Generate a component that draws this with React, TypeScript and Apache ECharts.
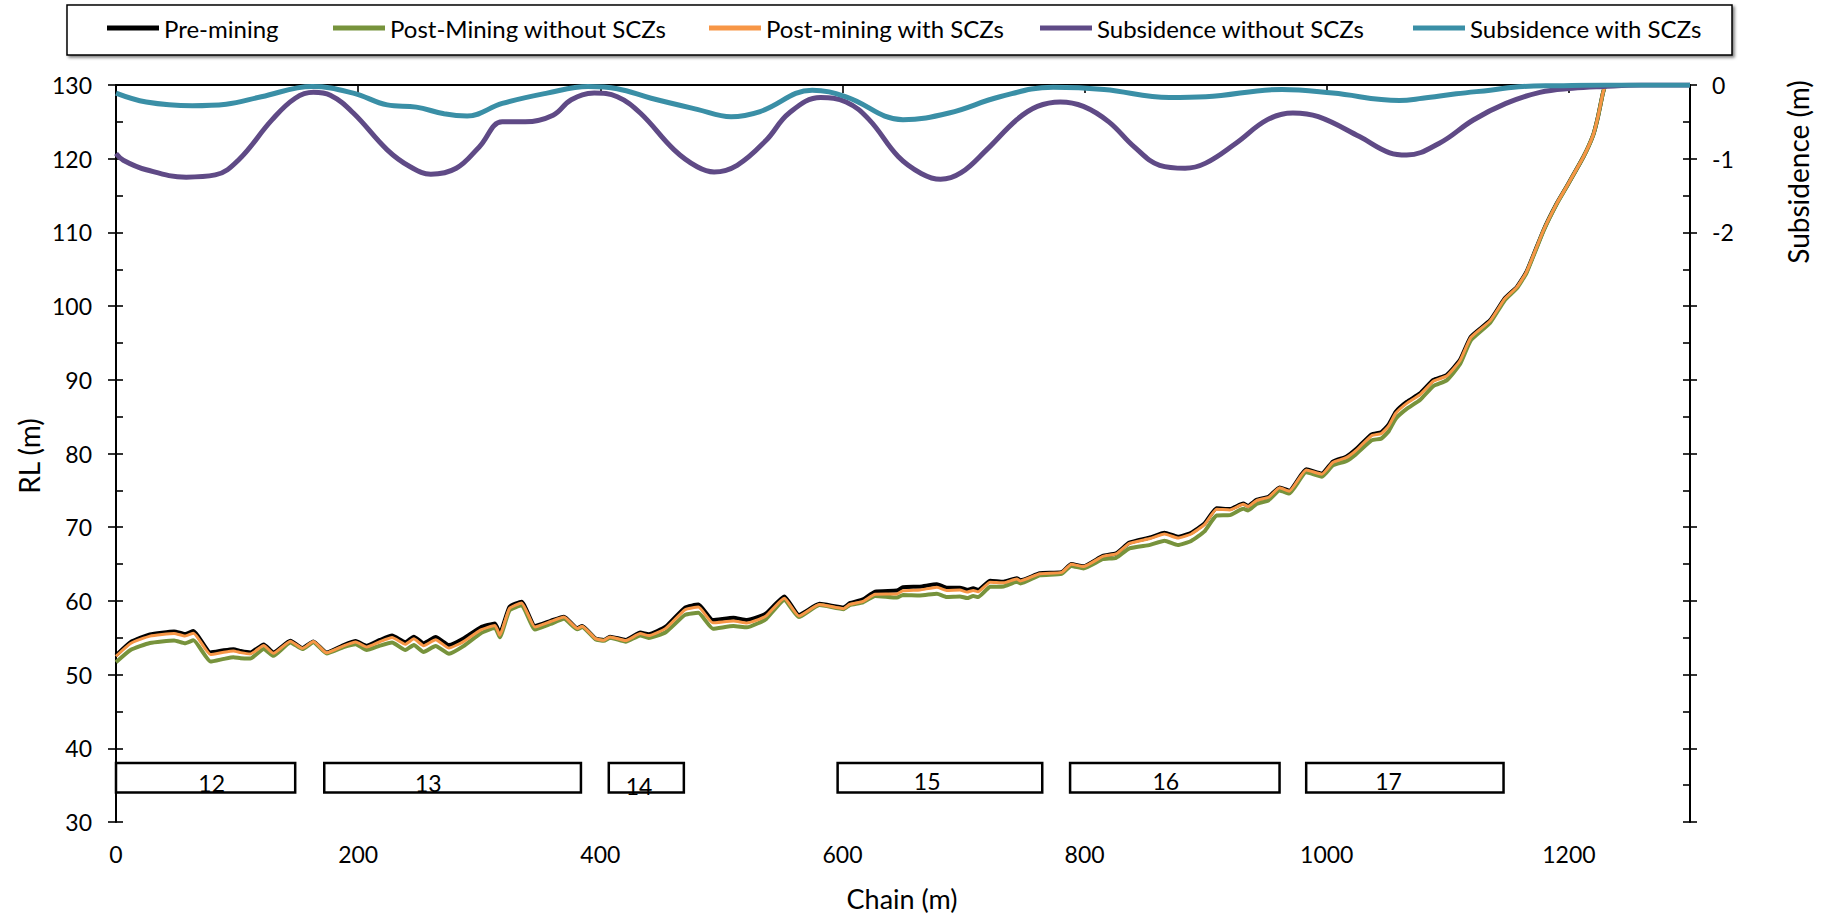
import React, { useEffect, useRef } from 'react';
import * as echarts from 'echarts';

const FONT = 'Lato';

// Ground profile (chain in m, RL in m)
const chain = [
  0, 12, 28, 48, 57, 64, 78, 89, 97, 103,
  111, 122, 130, 144, 154, 163, 174, 188, 198, 207,
  218, 228, 239, 246, 254, 264, 275, 287, 301, 313,
  317, 325, 335, 346, 359, 370, 381, 385, 396, 403,
  408, 421, 433, 440, 454, 470, 481, 493, 510, 521,
  531, 537, 552, 564, 581, 601, 606, 617, 627, 645,
  650, 664, 678, 686, 697, 703, 708, 712, 722, 733,
  744, 747, 763, 781, 789, 799, 815, 826, 837, 854,
  866, 877, 888, 899, 909, 920, 931, 935, 942, 952,
  961, 969, 983, 996, 1005, 1016, 1024, 1037, 1045, 1051,
  1057, 1066, 1077, 1088, 1099, 1110, 1119, 1135, 1147, 1157,
  1165, 1179, 1190, 1198, 1212, 1220, 1224, 1228, 1230,
];

const preMining = [
  52.6, 54.4, 55.45, 55.85, 55.5, 55.9, 53.0, 53.3, 53.45, 53.2,
  53.0, 54.1, 53.0, 54.6, 53.6, 54.5, 53.0, 54.0, 54.55, 53.9,
  54.7, 55.3, 54.4, 55.15, 54.25, 55.1, 54.0, 54.9, 56.4, 56.95,
  55.6, 59.2, 59.9, 56.6, 57.3, 57.86, 56.3, 56.6, 54.9, 54.7,
  55.15, 54.7, 55.7, 55.47, 56.5, 59.1, 59.5, 57.4, 57.7, 57.4,
  57.86, 58.3, 60.6, 58.1, 59.6, 59.1, 59.7, 60.2, 61.25, 61.4,
  61.85, 61.93, 62.25, 61.8, 61.8, 61.5, 61.7, 61.5, 62.74, 62.6,
  63.07, 62.8, 63.74, 63.9, 65.0, 64.7, 66.1, 66.45, 67.9, 68.6,
  69.25, 68.7, 69.25, 70.5, 72.56, 72.47, 73.2, 72.9, 73.7, 74.14,
  75.4, 74.95, 77.85, 77.3, 78.9, 79.57, 80.56, 82.6, 82.9, 83.9,
  85.67, 87.0, 88.16, 89.97, 90.65, 92.7, 95.85, 98.1, 101.06, 102.6,
  104.67, 110.3, 113.95, 116.2, 120.27, 123.2, 125.7, 128.87, 130.0,
];

const postMiningWithout = [
  51.67, 53.33, 54.29, 54.63, 54.25, 54.65, 51.77, 52.13, 52.37, 52.22,
  52.19, 53.49, 52.55, 54.37, 53.46, 54.4, 52.87, 53.74, 54.13, 53.33,
  53.93, 54.35, 53.33, 54.02, 53.07, 53.89, 52.84, 53.87, 55.58, 56.34,
  55.06, 58.7, 59.4, 56.13, 56.88, 57.57, 56.14, 56.46, 54.79, 54.58,
  55.01, 54.47, 55.32, 54.97, 55.75, 58.1, 58.38, 56.22, 56.59, 56.41,
  57.02, 57.55, 60.13, 57.8, 59.43, 58.88, 59.44, 59.8, 60.68, 60.45,
  60.81, 60.74, 60.98, 60.54, 60.6, 60.38, 60.66, 60.52, 61.91, 61.95,
  62.6, 62.36, 63.46, 63.67, 64.75, 64.41, 65.66, 65.85, 67.13, 67.6,
  68.15, 67.57, 68.13, 69.43, 71.59, 71.64, 72.51, 72.27, 73.15, 73.67,
  74.98, 74.56, 77.45, 76.86, 78.38, 78.96, 79.88, 81.79, 82.02, 82.98,
  84.73, 86.05, 87.26, 89.15, 89.92, 92.1, 95.35, 97.75, 100.8, 102.41,
  104.52, 110.21, 113.88, 116.15, 120.24, 123.18, 125.68, 128.85, 129.98,
];

const postMiningWith = [
  52.49, 54.23, 55.22, 55.59, 55.23, 55.62, 52.73, 53.04, 53.21, 52.98,
  52.81, 53.95, 52.88, 54.53, 53.56, 54.48, 52.95, 53.91, 54.43, 53.73,
  54.46, 55.02, 54.11, 54.85, 53.92, 54.74, 53.6, 54.48, 56.04, 56.66,
  55.34, 58.98, 59.73, 56.46, 57.2, 57.8, 56.26, 56.57, 54.88, 54.67,
  55.11, 54.62, 55.56, 55.3, 56.27, 58.81, 59.17, 57.02, 57.27, 57.0,
  57.5, 57.97, 60.37, 57.95, 59.52, 58.95, 59.52, 59.93, 60.9, 60.95,
  61.38, 61.49, 61.85, 61.42, 61.47, 61.2, 61.42, 61.24, 62.54, 62.45,
  62.97, 62.71, 63.69, 63.87, 64.97, 64.66, 66.04, 66.37, 67.8, 68.46,
  69.09, 68.53, 69.08, 70.34, 72.42, 72.35, 73.1, 72.81, 73.62, 74.07,
  75.34, 74.89, 77.77, 77.2, 78.79, 79.43, 80.4, 82.41, 82.7, 83.7,
  85.46, 86.8, 87.98, 89.81, 90.51, 92.58, 95.75, 98.03, 101.01, 102.57,
  104.65, 110.29, 113.94, 116.2, 120.27, 123.2, 125.7, 128.87, 130.0,
];

// Subsidence without SCZs (m)
const subWithoutChain = [
  0, 6, 25, 58, 82, 101, 129, 148, 163, 177,
  196, 224, 243, 260, 281, 300, 319, 338, 361, 376,
  395, 414, 433, 461, 480, 494, 513, 537, 556, 582,
  603, 622, 646, 665, 681, 698, 719, 744, 761, 780,
  799, 820, 841, 862, 883, 900, 925, 951, 972, 993,
  1027, 1052, 1066, 1093, 1121, 1148, 1176, 1203, 1228, 1260,
  1300,
];
const subWithout = [
  -0.93, -1.02, -1.15, -1.25, -1.22, -1.02, -0.47, -0.18, -0.1, -0.14,
  -0.38, -0.88, -1.11, -1.21, -1.13, -0.84, -0.5, -0.5, -0.41, -0.2,
  -0.11, -0.16, -0.38, -0.88, -1.11, -1.18, -1.09, -0.75, -0.38, -0.17,
  -0.23, -0.47, -0.97, -1.2, -1.28, -1.19, -0.88, -0.47, -0.29, -0.23,
  -0.29, -0.5, -0.84, -1.09, -1.13, -1.06, -0.79, -0.47, -0.38, -0.43,
  -0.7, -0.92, -0.95, -0.79, -0.475, -0.25, -0.1, -0.045, -0.02, 0,
  0,
];

// Subsidence with SCZs (m)
const subWithChain = [
  0, 25, 63, 91, 120, 162, 196, 224, 248, 271,
  290, 319, 356, 390, 414, 442, 480, 508, 532, 575,
  603, 650, 688, 730, 774, 816, 870, 900, 963, 1005,
  1060, 1079, 1107, 1135, 1162, 1190, 1230, 1300,
];
const subWith = [
  -0.11, -0.23, -0.28, -0.26, -0.16, -0.02, -0.11, -0.27, -0.3, -0.39,
  -0.42, -0.25, -0.11, -0.02, -0.05, -0.18, -0.33, -0.43, -0.36, -0.07,
  -0.16, -0.47, -0.38, -0.16, -0.03, -0.06, -0.17, -0.16, -0.06, -0.11,
  -0.21, -0.18, -0.12, -0.07, -0.02, -0.01, 0, 0,
];

// Longwall panels
const panelNames = ['12', '13', '14', '15', '16', '17'];
const panelStart = [0, 172, 407, 596, 788, 983];
const panelEnd = [148, 384, 469, 765, 961, 1146];
const panelLabelChain = [79, 258, 432, 670, 867, 1051];
const panelLabelRL = [35.3, 35.3, 34.9, 35.6, 35.6, 35.6];
const panelTopRL = 38;
const panelBottomRL = 34;

const seriesNames = [
  'Pre-mining',
  'Post-Mining without SCZs',
  'Post-mining with SCZs',
  'Subsidence without SCZs',
  'Subsidence with SCZs',
];
const seriesColors = ['#000000', '#77933C', '#F79646', '#5F4A86', '#3A8FA6'];

const xTicks = { min: 0, max: 1300, interval: 200 };
const rlTicks = { min: 30, max: 130, interval: 10 };
const subTicks = { min: -10, max: 0, interval: 1 };
const subLabelsShown = [0, -1, -2];

const legendLefts = [107, 333, 709, 1040, 1413];

export default function App() {
  const ref = useRef<HTMLDivElement>(null);

  useEffect(() => {
    if (!ref.current) return;
    const chart = echarts.init(ref.current, null, { renderer: 'svg' });
    const zip = (xs: number[], ys: number[]) => xs.map((x, i) => [x, ys[i]]);
    const axisLine = { show: true, lineStyle: { color: '#000', width: 2 } };
    const tickStyle = { color: '#000', width: 1.6 };

    const option: any = {
      animation: false,
      textStyle: { fontFamily: FONT, color: '#000' },
      grid: { left: 116, right: 142, top: 85, bottom: 94, containLabel: false },
      xAxis: {
        type: 'value',
        ...xTicks,
        axisLine,
        axisTick: { show: true, length: 8, lineStyle: tickStyle },
        axisLabel: {
          fontSize: 23,
          fontFamily: FONT,
          color: '#000',
          margin: 20,
          formatter: (v: number) => (v % 200 === 0 ? String(v) : ''),
        },
        splitLine: { show: false },
      },
      yAxis: [
        {
          type: 'value',
          position: 'left',
          ...rlTicks,
          axisLine,
          axisTick: { show: true, length: 8, lineStyle: tickStyle },
          axisLabel: { fontSize: 23, fontFamily: FONT, color: '#000', margin: 24 },
          splitLine: { show: false },
        },
        {
          type: 'value',
          position: 'right',
          ...subTicks,
          axisLine,
          axisTick: { show: true, length: 7, lineStyle: tickStyle },
          axisLabel: {
            fontSize: 23,
            fontFamily: FONT,
            color: '#000',
            margin: 22,
            formatter: (v: number) => (subLabelsShown.includes(v) ? String(v) : ''),
          },
          splitLine: { show: false },
        },
        {
          type: 'value',
          position: 'left',
          min: rlTicks.min,
          max: rlTicks.max,
          interval: rlTicks.interval / 2,
          axisLine: { show: false },
          axisTick: { show: true, inside: true, length: 7, lineStyle: tickStyle },
          axisLabel: { show: false },
          splitLine: { show: false },
        },
        {
          type: 'value',
          position: 'right',
          min: subTicks.min,
          max: subTicks.max,
          interval: subTicks.interval / 2,
          axisLine: { show: false },
          axisTick: { show: true, inside: true, length: 7, lineStyle: tickStyle },
          axisLabel: { show: false },
          splitLine: { show: false },
        },
      ],
      legend: seriesNames.map((name, i) => ({
        data: [name],
        left: legendLefts[i],
        top: 16,
        icon: 'rect',
        itemWidth: 52,
        itemHeight: 5,
        padding: 0,
        selectedMode: false,
        textStyle: { fontSize: 24, fontFamily: FONT, color: '#000' },
      })),
      graphic: [
        {
          type: 'rect',
          z: 0,
          silent: true,
          shape: { x: 67, y: 5, width: 1665, height: 50 },
          style: {
            fill: '#fff',
            stroke: '#000',
            lineWidth: 1.5,
            shadowBlur: 3,
            shadowColor: 'rgba(0,0,0,0.5)',
            shadowOffsetX: 2,
            shadowOffsetY: 2,
          },
        },
        {
          type: 'text',
          x: 29,
          y: 456,
          rotation: Math.PI / 2,
          style: { text: 'RL (m)', fontSize: 28, fontFamily: FONT, fill: '#000', align: 'center', verticalAlign: 'middle' },
        },
        {
          type: 'text',
          x: 1798,
          y: 172,
          rotation: Math.PI / 2,
          style: { text: 'Subsidence (m)', fontSize: 28, fontFamily: FONT, fill: '#000', align: 'center', verticalAlign: 'middle' },
        },
        {
          type: 'text',
          x: 902,
          y: 898,
          style: { text: 'Chain (m)', fontSize: 27, fontFamily: FONT, fill: '#000', align: 'center', verticalAlign: 'middle' },
        },
      ],
      series: [
        {
          name: seriesNames[0],
          type: 'line',
          data: zip(chain, preMining),
          symbol: 'none',
          smooth: 0.15,
          lineStyle: { color: seriesColors[0], width: 4 },
          itemStyle: { color: seriesColors[0] },
        },
        {
          name: seriesNames[1],
          type: 'line',
          data: zip(chain, postMiningWithout),
          symbol: 'none',
          smooth: 0.15,
          lineStyle: { color: seriesColors[1], width: 4 },
          itemStyle: { color: seriesColors[1] },
        },
        {
          name: seriesNames[2],
          type: 'line',
          data: zip(chain, postMiningWith),
          symbol: 'none',
          smooth: 0.15,
          lineStyle: { color: seriesColors[2], width: 3 },
          itemStyle: { color: seriesColors[2] },
        },
        {
          name: seriesNames[3],
          type: 'line',
          yAxisIndex: 1,
          data: zip(subWithoutChain, subWithout),
          symbol: 'none',
          smooth: 0.4,
          lineStyle: { color: seriesColors[3], width: 5 },
          itemStyle: { color: seriesColors[3] },
        },
        {
          name: seriesNames[4],
          type: 'line',
          yAxisIndex: 1,
          data: zip(subWithChain, subWith),
          symbol: 'none',
          smooth: 0.4,
          lineStyle: { color: seriesColors[4], width: 5 },
          itemStyle: { color: seriesColors[4] },
        },
        {
          type: 'custom',
          xAxisIndex: 0,
          yAxisIndex: 0,
          silent: true,
          data: panelNames.map((_, i) => [panelStart[i], panelEnd[i], panelLabelChain[i], panelLabelRL[i]]),
          encode: { x: [0, 1, 2], y: 3 },
          renderItem: (params: any, api: any) => {
            const p1 = api.coord([api.value(0), panelTopRL]);
            const p2 = api.coord([api.value(1), panelBottomRL]);
            const t = api.coord([api.value(2), api.value(3)]);
            return {
              type: 'group',
              children: [
                {
                  type: 'rect',
                  shape: { x: p1[0], y: p1[1], width: p2[0] - p1[0], height: p2[1] - p1[1] },
                  style: { fill: '#fff', stroke: '#000', lineWidth: 2.5 },
                },
                {
                  type: 'text',
                  style: {
                    text: panelNames[params.dataIndex],
                    x: t[0],
                    y: t[1],
                    align: 'center',
                    verticalAlign: 'middle',
                    fontSize: 23,
                    fontFamily: FONT,
                    fill: '#000',
                  },
                },
              ],
            };
          },
        },
      ],
    };

    chart.setOption(option);
    return () => chart.dispose();
  }, []);

  return (
    <div
      ref={ref}
      style={{ position: 'fixed', left: 0, top: 0, width: 1832, height: 916, background: '#fff' }}
    />
  );
}
